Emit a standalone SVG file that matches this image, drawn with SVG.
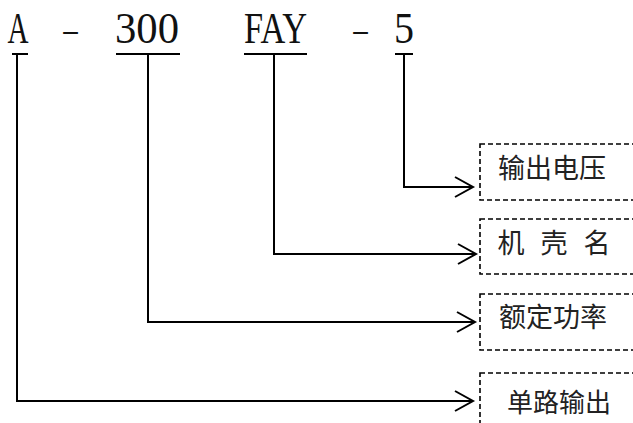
<svg xmlns="http://www.w3.org/2000/svg" width="633" height="423" viewBox="0 0 633 423">
<style>
.code{font-family:"Liberation Serif",serif;font-size:44px;fill:#111}
.dash{font-family:"Liberation Serif",serif;font-size:28px;fill:#111}
.lbl{font-family:"Noto Sans CJK SC","Noto Sans",sans-serif;font-size:27px;fill:#222}
.ln{fill:none;stroke:#000;stroke-width:2}
.box{fill:none;stroke:#000;stroke-width:1.6;stroke-dasharray:5,3}
</style>
<defs>
<marker id="arr" markerUnits="userSpaceOnUse" markerWidth="24" markerHeight="24" viewBox="-20 -12 22 24" refX="0" refY="0" orient="auto">
<path d="M-18,-10 L0,0 L-18,10" fill="none" stroke="#000" stroke-width="2"/>
</marker>
</defs>
<rect width="633" height="423" fill="#fff"/>
<g id="code">
<text class="code" x="7.5" y="43" textLength="21" lengthAdjust="spacingAndGlyphs">A</text>
<text class="dash" x="61" y="39" textLength="19" lengthAdjust="spacingAndGlyphs">-</text>
<text class="code" x="115" y="43" textLength="64" lengthAdjust="spacingAndGlyphs">300</text>
<text class="code" x="244" y="43" textLength="63" lengthAdjust="spacingAndGlyphs">FAY</text>
<text class="dash" x="351" y="39" textLength="19" lengthAdjust="spacingAndGlyphs">-</text>
<text class="code" x="394" y="43" textLength="20" lengthAdjust="spacingAndGlyphs">5</text>
</g>
<g id="connectors">
<path class="ln" d="M12,54 H28 M17,54 V401 H473" marker-end="url(#arr)"/>
<path class="ln" d="M116,54 H180 M148,54 V322 H475" marker-end="url(#arr)"/>
<path class="ln" d="M244,54 H307 M274,54 V254 H476" marker-end="url(#arr)"/>
<path class="ln" d="M395,54 H413 M404,54 V187 H473" marker-end="url(#arr)"/>
</g>
<g id="n-voltage">
<rect class="box" x="480" y="144" width="170" height="56"/>
<text class="lbl" x="498" y="178">输出电压</text>
</g>
<g id="n-case">
<rect class="box" x="480" y="219" width="170" height="55"/>
<text class="lbl" x="511" y="253" text-anchor="middle">机</text>
<text class="lbl" x="554" y="253" text-anchor="middle">壳</text>
<text class="lbl" x="597" y="253" text-anchor="middle">名</text>
</g>
<g id="n-power">
<rect class="box" x="480" y="294" width="170" height="56"/>
<text class="lbl" x="499" y="327">额定功率</text>
</g>
<g id="n-single">
<rect class="box" x="480" y="373" width="170" height="60"/>
<text class="lbl" x="507" y="412" style="font-size:26px">单路输出</text>
</g>
</svg>
